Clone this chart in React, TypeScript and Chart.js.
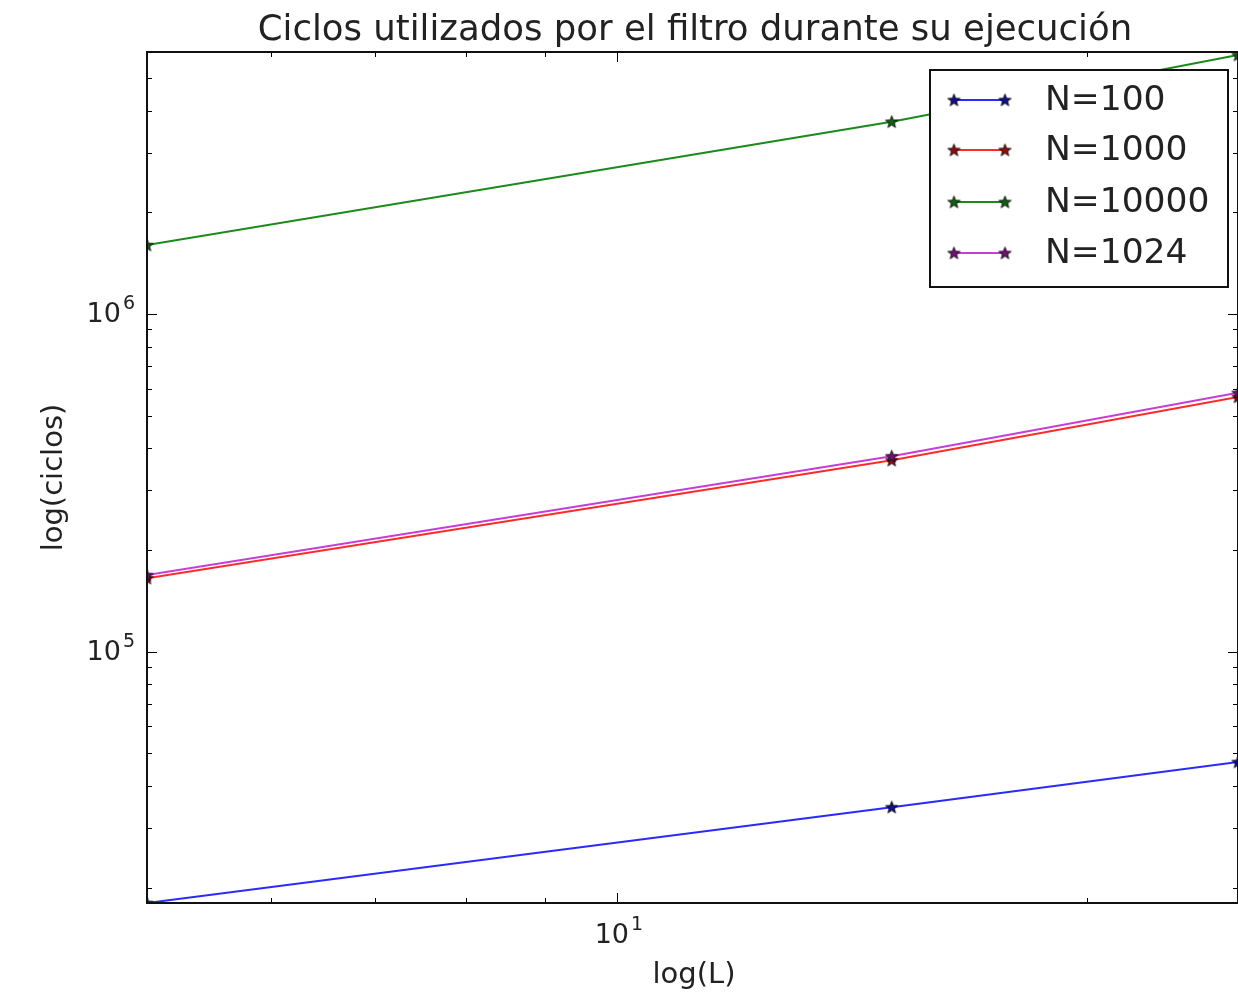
import React, { useEffect, useRef } from 'react';
import { Chart, registerables } from 'chart.js';
Chart.register(...registerables);

const L_VALUES = [5, 15, 25];
const SERIES_LABELS = ['N=100', 'N=1000', 'N=10000', 'N=1024'];
const N100 = [18000, 34600, 47100];
const N1000 = [165000, 369000, 568000];
const N10000 = [1600000, 3710000, 5850000];
const N1024 = [168500, 379000, 584000];
const LINE_COLORS = ['#2a2aff', '#ff2a2a', '#1a8a1a', '#c83cd8'];
const MARKER_COLORS = ['#10108a', '#8a1010', '#106010', '#701070'];
const X_MIN = 5;
const X_MAX = 25;
const Y_MIN = 18000;
const Y_MAX = 5970000;
const X_MAJOR_TICKS = [10];
const Y_MAJOR_TICKS = [1e5, 1e6];
const TITLE = 'Ciclos utilizados por el filtro durante su ejecución';
const X_LABEL = 'log(L)';
const Y_LABEL = 'log(ciclos)';
const FONT = '"DejaVu Sans", sans-serif';

function makeStar(fill: string, r = 6.5): HTMLCanvasElement {
  const c = document.createElement('canvas');
  const s = Math.ceil(r * 2 + 4);
  c.width = s;
  c.height = s;
  const ctx = c.getContext('2d')!;
  ctx.translate(s / 2, s / 2 + 0.5);
  ctx.beginPath();
  for (let i = 0; i < 10; i++) {
    const rad = i % 2 === 0 ? r : r * 0.42;
    const a = -Math.PI / 2 + (i * Math.PI) / 5;
    ctx.lineTo(rad * Math.cos(a), rad * Math.sin(a));
  }
  ctx.closePath();
  ctx.fillStyle = fill;
  ctx.fill();
  ctx.strokeStyle = '#000';
  ctx.lineWidth = 0.8;
  ctx.stroke();
  return c;
}

function logValues(min: number, max: number) {
  const out: { v: number; major: boolean }[] = [];
  for (let d = Math.floor(Math.log10(min)); d <= Math.ceil(Math.log10(max)); d++) {
    for (let m = 1; m <= 9; m++) {
      const v = m * Math.pow(10, d);
      if (v >= min * 0.9999 && v <= max * 1.0001) out.push({ v, major: m === 1 });
    }
  }
  return out;
}

function drawPow(ctx: CanvasRenderingContext2D, v: number, ax: number, ay: number, align: 'right' | 'center') {
  const e = String(Math.round(Math.log10(v)));
  ctx.textAlign = 'left';
  ctx.textBaseline = 'middle';
  ctx.font = `27px ${FONT}`;
  const wb = ctx.measureText('10').width;
  ctx.font = `19px ${FONT}`;
  const we = ctx.measureText(e).width;
  const total = wb + 2 + we;
  const x0 = align === 'right' ? ax - total : ax - total / 2;
  ctx.font = `27px ${FONT}`;
  ctx.fillText('10', x0, ay);
  ctx.font = `19px ${FONT}`;
  ctx.fillText(e, x0 + wb + 2, ay - 11);
}

export default function App() {
  const ref = useRef<HTMLCanvasElement>(null);
  useEffect(() => {
    document.body.style.margin = '0';
    const canvas = ref.current!;
    const stars = MARKER_COLORS.map((c) => makeStar(c));
    const series = [N100, N1000, N10000, N1024];

    const decor = {
      id: 'decor',
      afterDraw(chart: any) {
        const ctx: CanvasRenderingContext2D = chart.ctx;
        const { left, top, right, bottom } = chart.chartArea;
        const xs = chart.scales.x;
        const ys = chart.scales.y;
        ctx.save();
        ctx.strokeStyle = '#000';
        ctx.lineWidth = 1;
        for (const t of logValues(X_MIN, X_MAX)) {
          const px = Math.round(xs.getPixelForValue(t.v)) + 0.5;
          const len = t.major ? 10 : 5;
          ctx.beginPath();
          ctx.moveTo(px, bottom);
          ctx.lineTo(px, bottom - len);
          ctx.moveTo(px, top);
          ctx.lineTo(px, top + len);
          ctx.stroke();
        }
        for (const t of logValues(Y_MIN, Y_MAX)) {
          const py = Math.round(ys.getPixelForValue(t.v)) + 0.5;
          const len = t.major ? 10 : 5;
          ctx.beginPath();
          ctx.moveTo(left, py);
          ctx.lineTo(left + len, py);
          ctx.moveTo(right, py);
          ctx.lineTo(right - len, py);
          ctx.stroke();
        }
        ctx.lineWidth = 2;
        ctx.strokeStyle = '#111';
        ctx.strokeRect(left, top, right - left, bottom - top);

        ctx.fillStyle = '#222';
        for (const v of X_MAJOR_TICKS) {
          drawPow(ctx, v, xs.getPixelForValue(v) + 2, bottom + 33, 'center');
        }
        for (const v of Y_MAJOR_TICKS) {
          drawPow(ctx, v, left - 12, ys.getPixelForValue(v) + 1, 'right');
        }

        ctx.fillStyle = '#222';
        ctx.font = `35.5px ${FONT}`;
        ctx.textAlign = 'center';
        ctx.textBaseline = 'alphabetic';
        ctx.fillText(TITLE, 695, 40);
        ctx.font = `29px ${FONT}`;
        ctx.fillText(X_LABEL, 694, 983);
        ctx.save();
        ctx.translate(62, (top + bottom) / 2);
        ctx.rotate(-Math.PI / 2);
        ctx.fillText(Y_LABEL, 0, 0);
        ctx.restore();

        const bx = 930, by = 70, bw = 298, bh = 217;
        ctx.fillStyle = '#fff';
        ctx.fillRect(bx, by, bw, bh);
        ctx.lineWidth = 2;
        ctx.strokeStyle = '#111';
        ctx.strokeRect(bx, by, bw, bh);
        const rows = [100, 150, 202, 253];
        ctx.font = `34.5px ${FONT}`;
        ctx.textAlign = 'left';
        ctx.textBaseline = 'middle';
        SERIES_LABELS.forEach((lab, i) => {
          const yy = rows[i];
          ctx.strokeStyle = LINE_COLORS[i];
          ctx.lineWidth = 2;
          ctx.beginPath();
          ctx.moveTo(954, yy);
          ctx.lineTo(1005, yy);
          ctx.stroke();
          const st = stars[i];
          ctx.drawImage(st, 954 - st.width / 2, yy - st.height / 2);
          ctx.drawImage(st, 1005 - st.width / 2, yy - st.height / 2);
          ctx.fillStyle = '#222';
          ctx.fillText(lab, 1045, yy + 1);
        });
        ctx.restore();
      },
    };

    const chart = new Chart(canvas, {
      type: 'line',
      data: {
        datasets: series.map((vals, i) => ({
          label: SERIES_LABELS[i],
          data: L_VALUES.map((x, j) => ({ x, y: vals[j] })),
          borderColor: LINE_COLORS[i],
          backgroundColor: LINE_COLORS[i],
          borderWidth: 2,
          pointStyle: stars[i] as any,
          pointRadius: 6,
          pointHoverRadius: 6,
          fill: false,
          tension: 0,
          order: i === 3 ? 0 : i === 1 ? 1 : 2,
        })),
      },
      options: {
        responsive: false,
        animation: false,
        devicePixelRatio: 1,
        events: [],
        layout: { autoPadding: false, padding: { top: 52, right: -1, bottom: 0, left: 0 } },
        plugins: {
          legend: { display: false },
          title: { display: false },
          tooltip: { enabled: false },
        },
        scales: {
          x: {
            type: 'logarithmic',
            min: X_MIN,
            max: X_MAX,
            grid: { display: false },
            border: { display: false },
            ticks: { display: false },
            afterBuildTicks: (s: any) => {
              s.ticks = X_MAJOR_TICKS.map((v) => ({ value: v }));
            },
            afterFit: (s: any) => {
              s.height = 94;
            },
          },
          y: {
            type: 'logarithmic',
            min: Y_MIN,
            max: Y_MAX,
            grid: { display: false },
            border: { display: false },
            ticks: { display: false },
            afterBuildTicks: (s: any) => {
              s.ticks = Y_MAJOR_TICKS.map((v) => ({ value: v }));
            },
            afterFit: (s: any) => {
              s.width = 147;
            },
          },
        },
      },
      plugins: [decor],
    } as any);
    return () => chart.destroy();
  }, []);
  return <canvas ref={ref} width={1238} height={997} style={{ display: 'block' }} />;
}
